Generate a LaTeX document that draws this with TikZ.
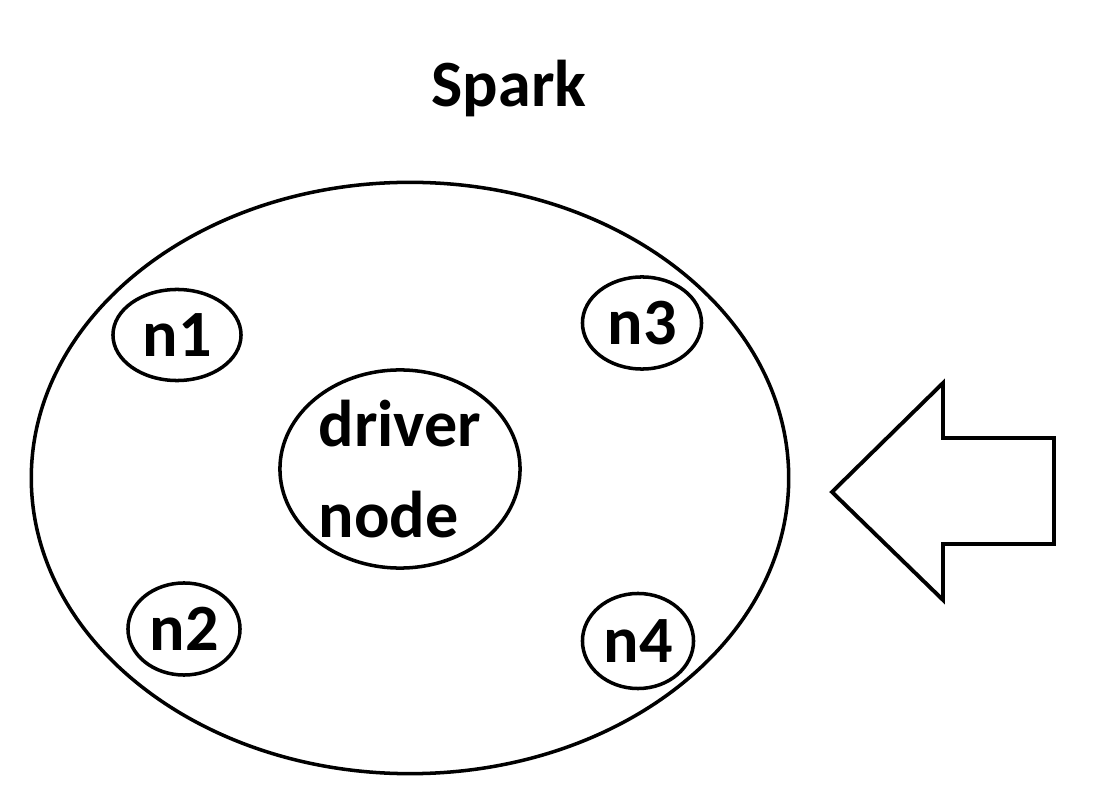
\documentclass[tikz,border=0pt]{standalone}
\usepackage{fontspec}
\setmainfont{Carlito}
\usepackage{tikz}
\usetikzlibrary{shapes.geometric}

\begin{document}
\begin{tikzpicture}[x=0.01cm, y=-0.01cm,
    worker/.style={draw, line width=1pt, ellipse, inner sep=0pt,
      font=\fontsize{18.8}{26}\selectfont\bfseries},
    label/.style={font=\fontsize{18.8}{26}\selectfont\bfseries}]

  \useasboundingbox (0,0) rectangle (1096,788);

  \node[label] (title) at (509,89) {Spark};

  \node[draw, line width=1pt, ellipse, minimum width=7.57cm, minimum height=5.91cm] (cluster) at (410,478) {};

  \node[worker, minimum width=2.4cm, minimum height=1.98cm, align=left] (driver) at (400,469) {driver\\node};

  \node[worker, minimum width=1.28cm, minimum height=0.91cm] (n1) at (177,335) {n1};
  \node[worker, minimum width=1.19cm, minimum height=0.92cm] (n3) at (642,323) {n3};
  \node[worker, minimum width=1.12cm, minimum height=0.92cm] (n2) at (184,629) {n2};
  \node[worker, minimum width=1.11cm, minimum height=0.95cm] (n4) at (638,641) {n4};

  \draw[line width=1.1pt, line join=miter]
    (832,492) -- (943,383) -- (943,438) -- (1054,438)
    -- (1054,544) -- (943,544) -- (943,600) -- cycle;

\end{tikzpicture}
\end{document}
